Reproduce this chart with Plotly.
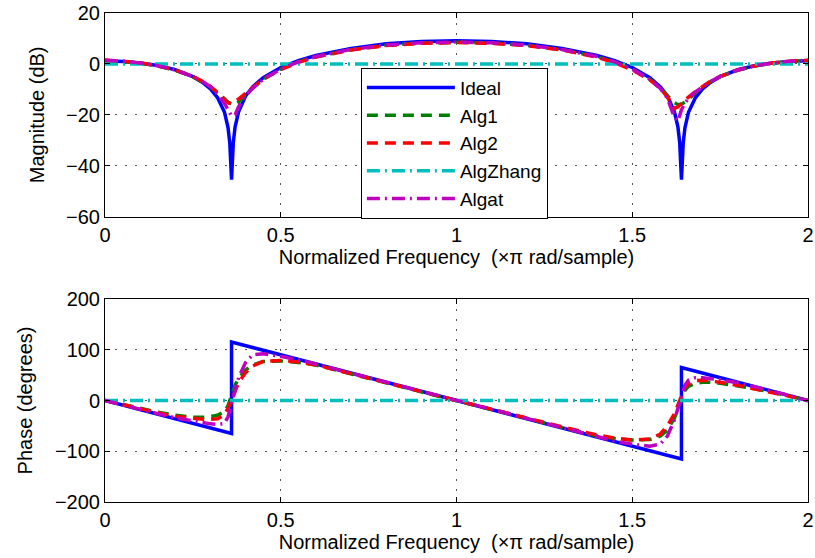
import plotly.graph_objects as go

# ---------------- data ----------------
ideal_mag_x = [0, 0.05, 0.1, 0.15, 0.2, 0.25, 0.28, 0.3, 0.32, 0.34, 0.35, 0.355, 0.36, 0.365, 0.37, 0.38,
               0.4, 0.42, 0.45, 0.5, 0.55, 0.6, 0.7, 0.8, 0.9, 1.0,
               1.1, 1.2, 1.3, 1.4, 1.45, 1.5, 1.55, 1.58, 1.6, 1.62, 1.63, 1.635, 1.64, 1.645, 1.65, 1.66,
               1.68, 1.7, 1.72, 1.75, 1.8, 1.85, 1.9, 1.95, 2.0]
ideal_mag = [1.2, 1.0, 0.4, -0.6, -2.3, -5.0, -7.5, -9.8, -13.2, -19.0, -25.0, -31.0, -45.5, -30.9, -24.8, -18.8,
             -12.6, -9.0, -5.4, -1.4, 1.3, 3.3, 6.1, 7.9, 8.8, 9.1,
             8.8, 7.9, 6.1, 3.3, 1.3, -1.4, -5.4, -9.0, -12.6, -18.8, -24.8, -30.9, -45.5, -31.0, -25.0, -19.0,
             -13.2, -9.8, -7.5, -5.0, -2.3, -0.6, 0.4, 1.0, 1.2]

alg_x = [0, 0.05, 0.1, 0.15, 0.2, 0.25, 0.28, 0.3, 0.32, 0.34, 0.35, 0.36, 0.37, 0.38, 0.4, 0.42, 0.45,
         0.5, 0.55, 0.6, 0.7, 0.8, 0.9, 1.0,
         1.1, 1.2, 1.3, 1.4, 1.45, 1.5, 1.55, 1.58, 1.6, 1.62, 1.63, 1.64, 1.65, 1.66, 1.68, 1.7, 1.72,
         1.75, 1.8, 1.85, 1.9, 1.95, 2.0]

alg1_mag = [1.3, 1.0, 0.3, -0.8, -2.5, -5.0, -7.2, -9.0, -11.3, -13.8, -15.0, -15.8, -16.0, -15.0, -12.0, -9.5, -6.0,
            -2.0, 0.8, 2.8, 5.6, 7.3, 8.2, 8.5,
            8.2, 7.3, 5.6, 2.8, 0.8, -2.0, -6.0, -9.5, -12.5, -15.2, -16.0, -15.8, -15.0, -13.8, -11.3, -9.0, -7.2,
            -5.0, -2.5, -0.8, 0.3, 1.0, 1.3]
alg2_mag = [1.4, 1.1, 0.4, -0.7, -2.4, -4.9, -7.0, -8.8, -11.2, -14.0, -15.3, -15.5, -14.8, -13.8, -11.5, -9.2, -6.0,
            -2.2, 0.6, 2.7, 5.5, 7.2, 8.1, 8.4,
            8.1, 7.2, 5.5, 2.6, 0.5, -2.4, -6.3, -9.6, -13.0, -17.5, -16.8, -15.5, -14.2, -13.0, -10.8, -8.8, -7.0,
            -4.9, -2.4, -0.7, 0.4, 1.1, 1.4]
algat_mag = [1.4, 1.1, 0.4, -0.7, -2.4, -4.9, -7.1, -9.0, -11.8, -15.5, -18.0, -20.5, -20.0, -16.8, -12.5, -9.6, -6.0,
             -2.0, 0.8, 2.9, 5.7, 7.4, 8.3, 8.6,
             8.3, 7.4, 5.7, 2.9, 0.8, -2.0, -6.0, -9.6, -13.5, -21.0, -22.5, -18.0, -15.5, -13.5, -11.0, -9.0, -7.1,
             -4.9, -2.4, -0.7, 0.4, 1.1, 1.4]

zhang_x = [0, 2]
zhang_mag = [0, 0]
zhang_phase = [0, 0]

ideal_ph_x = [0, 0.36, 0.36, 1.64, 1.64, 2.0]
ideal_phase = [0, -64.8, 115.2, -115.2, 64.8, 0]

alg1_phase = [0, -8, -16, -23, -29, -33, -33, -32, -29, -22, -10, 10, 30, 44, 60, 70, 77,
              78, 75, 70, 53, 35, 17, 0,
              -17, -35, -53, -70, -75, -78, -77, -70, -58, -35, -15, 5, 20, 28, 34, 36, 36,
              34, 29, 23, 16, 8, 0]
alg2_phase = [0, -8, -17, -24, -31, -35, -37, -37, -36, -28, -15, 2, 20, 35, 55, 68, 77,
              79, 76, 70, 53, 35, 17, 0,
              -17, -35, -52, -68, -74, -78, -76, -66, -50, -26, -8, 12, 26, 33, 39, 40, 39,
              36, 30, 23, 16, 8, 0]
algat_phase = [0, -9, -17, -26, -34, -40, -44, -46, -47, -45, -32, -8, 20, 45, 75, 90, 92,
               87, 80, 72, 54, 36, 18, 0,
               -18, -36, -54, -72, -80, -86, -90, -86, -70, -38, -15, 12, 30, 40, 45, 45, 44,
               41, 35, 27, 18, 9, 0]

x_ticks = [0, 0.5, 1, 1.5, 2]
x_tick_text = ["0", "0.5", "1", "1.5", "2"]
mag_ticks = [-60, -40, -20, 0, 20]
phase_ticks = [-200, -100, 0, 100, 200]

names = ["Ideal", "Alg1", "Alg2", "AlgZhang", "Algat"]
colors = ["#0000FF", "#008000", "#FF0000", "#00BFBF", "#BF00BF"]
dashes = ["solid", "11px,7px", "11px,7px", "13px,5px,2px,5px", "13px,5px,2px,5px"]

# ---------------- figure ----------------
FONT = "Liberation Sans, Arial, Helvetica, sans-serif"
FS = 20
fig = go.Figure()

mag_series = [(ideal_mag_x, ideal_mag), (alg_x, alg1_mag), (alg_x, alg2_mag), (zhang_x, zhang_mag), (alg_x, algat_mag)]
ph_series = [(ideal_ph_x, ideal_phase), (alg_x, alg1_phase), (alg_x, alg2_phase), (zhang_x, zhang_phase), (alg_x, algat_phase)]

for i, name in enumerate(names):
    xs, ys = mag_series[i]
    fig.add_trace(go.Scatter(x=xs, y=ys, mode="lines", name=name, legendgroup=name,
                             line=dict(color=colors[i], width=3.5, dash=dashes[i]),
                             xaxis="x", yaxis="y"))
for i, name in enumerate(names):
    xs, ys = ph_series[i]
    fig.add_trace(go.Scatter(x=xs, y=ys, mode="lines", name=name, legendgroup=name, showlegend=False,
                             line=dict(color=colors[i], width=3.5, dash=dashes[i]),
                             xaxis="x2", yaxis="y2"))

axis_common = dict(showline=True, linecolor="black", linewidth=1, mirror="ticks",
                   ticks="inside", ticklen=5, tickcolor="black", tickwidth=1,
                   showgrid=True, gridcolor="#555555", gridwidth=1, griddash="2px,8px",
                   zeroline=False, automargin=False,
                   tickfont=dict(family=FONT, size=FS, color="black"))

xtitle = dict(text="Normalized Frequency  (\u00d7\u03c0 rad/sample)", font=dict(family=FONT, size=FS, color="black"), standoff=0)

fig.update_layout(
    width=815, height=558,
    margin=dict(l=105, r=7, t=13, b=56),
    paper_bgcolor="white", plot_bgcolor="white",
    font=dict(family=FONT, size=FS, color="black"),
    xaxis=dict(domain=[0, 1], anchor="y", range=[0, 2], tickvals=x_ticks, ticktext=x_tick_text,
               title=xtitle, **axis_common),
    yaxis=dict(domain=[0.5834, 1], anchor="x", range=[-60, 20], tickvals=mag_ticks,
               title=dict(text="Magnitude (dB)", font=dict(family=FONT, size=FS, color="black"), standoff=16),
               **axis_common),
    xaxis2=dict(domain=[0, 1], anchor="y2", range=[0, 2], tickvals=x_ticks, ticktext=x_tick_text,
                title=xtitle, **axis_common),
    yaxis2=dict(domain=[0, 0.4151], anchor="x2", range=[-200, 200], tickvals=phase_ticks,
                title=dict(text="Phase (degrees)", font=dict(family=FONT, size=FS, color="black"), standoff=16),
                **axis_common),
    legend=dict(x=0.364, y=0.888, xanchor="left", yanchor="top", bgcolor="white",
                bordercolor="black", borderwidth=1, font=dict(family=FONT, size=19, color="black"),
                itemwidth=88, tracegroupgap=0, traceorder="normal"),
    showlegend=True,
)

fig.write_html("out.html")
